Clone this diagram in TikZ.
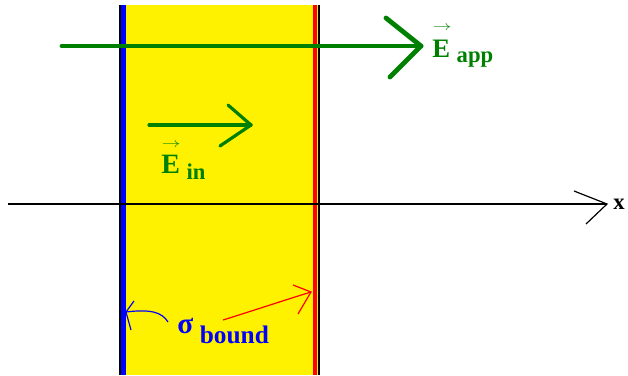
\documentclass[tikz,border=0pt]{standalone}
\usepackage{fontspec}
\usepackage{graphicx}
\setmainfont{Liberation Serif}
\definecolor{fgreen}{RGB}{0,128,0}
\newcommand{\vecE}[1]{\makebox[0pt][l]{\hspace{0.5pt}\raisebox{#1}{\scalebox{1.4}[1]{\fontsize{10}{10}\selectfont$\rightarrow$}}}E}
\begin{document}
\begin{tikzpicture}[x=0.75pt,y=-0.75pt,
  fieldline/.style={fgreen,line width=3.6pt,line cap=round,line join=round},
  thinline/.style={black,line width=0.9pt},
  lbl/.style={inner sep=0pt,anchor=base west,font=\bfseries}]
\useasboundingbox (0,0) rectangle (628,375);
% slab
\fill[yellow] (120,5) rectangle (319,375);
\draw[black,line width=0.9pt] (120,5) -- (120,375);
\draw[black,line width=0.9pt] (319,5) -- (319,375);
\fill[blue] (121,5) rectangle (125.5,375);
\fill[red] (313,5) rectangle (316.5,375);
% x axis
\coordinate (xa) at (8,204);
\coordinate (xb) at (607,204);
\draw[thinline] (xa) -- (xb);
\draw[thinline] (574,191) -- (xb) -- (586,224);
\node[lbl,font=\bfseries\fontsize{17}{17}\selectfont] (xl) at (613,209) {x};
% applied field
\coordinate (ea) at (62,46);
\coordinate (eb) at (421,46);
\draw[fieldline] (ea) -- (eb);
\draw[fieldline] (386,18) -- (eb) -- (390,77);
\node[lbl,fgreen,font=\bfseries\fontsize{20}{20}\selectfont] (eapp) at (432,57)
  {\vecE{20pt}\hspace{5pt}\raisebox{-4pt}{\fontsize{17}{17}\selectfont app}};
% internal field
\coordinate (ia) at (149,125);
\coordinate (ib) at (251,125);
\draw[fgreen,line width=2.4pt,line cap=round,line join=round] (ia) -- (ib);
\draw[fgreen,line width=2.4pt,line cap=round,line join=round] (228,105) -- (ib) -- (220,146);
\node[lbl,fgreen,font=\bfseries\fontsize{21}{21}\selectfont] (ein) at (161,173)
  {\vecE{19pt}\hspace{5pt}\raisebox{-5pt}{\fontsize{17}{17}\selectfont in}};
% sigma bound
\node[lbl,blue] (sig) at (177,333)
  {\fontsize{22}{22}\selectfont σ\hspace{5pt}\raisebox{-7.5pt}{\bfseries\fontsize{19}{19}\selectfont bound}};
\coordinate (bl) at (126,312);
\coordinate (rl) at (311,292);
\draw[blue,line width=0.9pt] (168,322) .. controls (162,312) and (150,309) .. (bl);
\draw[blue,line width=0.9pt] (134,301) -- (bl) -- (131,330);
\draw[red,line width=0.9pt] (223,320) .. controls (255,310) and (285,300) .. (rl);
\draw[red,line width=0.9pt] (293,285) -- (rl) -- (298,314);
\end{tikzpicture}
\end{document}
